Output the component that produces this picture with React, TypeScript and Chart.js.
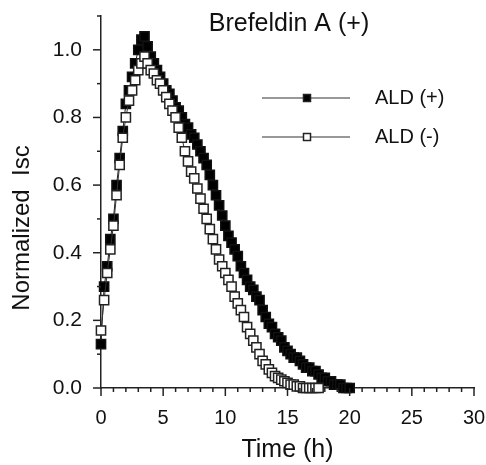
import React, { useEffect, useRef } from "react";
import { Chart, registerables } from "chart.js";

Chart.register(...registerables);

const timeHours: number[] = [
  0, 0.25, 0.5, 0.75, 1, 1.25, 1.5, 1.75, 2, 2.25, 2.5, 2.75, 3, 3.25, 3.5, 3.75, 4, 4.25, 4.5, 4.75,
  5, 5.25, 5.5, 5.75, 6, 6.25, 6.5, 6.75, 7, 7.25, 7.5, 7.75, 8, 8.25, 8.5, 8.75, 9, 9.25, 9.5, 9.75,
  10, 10.25, 10.5, 10.75, 11, 11.25, 11.5, 11.75, 12, 12.25, 12.5, 12.75, 13, 13.25, 13.5, 13.75,
  14, 14.25, 14.5, 14.75, 15, 15.25, 15.5, 15.75, 16, 16.25, 16.5, 16.75, 17, 17.25, 17.5, 17.75,
  18, 18.25, 18.5, 18.75, 19, 19.25, 19.5, 19.75, 20,
];

const aldPlus: number[] = [
  0.13, 0.30, 0.36, 0.44, 0.50, 0.60, 0.68, 0.76, 0.84, 0.88, 0.92, 0.96, 1.00, 1.03, 1.04, 1.01, 0.98, 0.96, 0.94, 0.92,
  0.90, 0.88, 0.87, 0.85, 0.83, 0.82, 0.80, 0.78, 0.77, 0.75, 0.74, 0.72, 0.70, 0.68, 0.66, 0.63, 0.60, 0.57, 0.54, 0.51,
  0.48, 0.45, 0.43, 0.41, 0.39, 0.36, 0.34, 0.32, 0.30, 0.29, 0.27, 0.26, 0.23, 0.21, 0.19, 0.18,
  0.16, 0.15, 0.14, 0.12, 0.11, 0.10, 0.09, 0.09, 0.08, 0.07, 0.06, 0.06, 0.05, 0.05, 0.04, 0.03,
  0.03, 0.02, 0.02, 0.01, 0.01, 0.01, 0.0, 0.0, 0.0,
];

const aldMinus: number[] = [
  0.17, 0.26, 0.34, 0.41, 0.48, 0.57, 0.66, 0.74, 0.80, 0.85, 0.88, 0.91, 0.94, 0.96, 0.98, 0.96, 0.94, 0.93, 0.91, 0.90,
  0.88, 0.86, 0.84, 0.82, 0.80, 0.77, 0.74, 0.70, 0.67, 0.64, 0.62, 0.59, 0.56, 0.53, 0.50, 0.47, 0.44, 0.41, 0.38, 0.36,
  0.34, 0.32, 0.30, 0.27, 0.25, 0.23, 0.21, 0.18, 0.16, 0.14, 0.12, 0.10, 0.08, 0.07, 0.055, 0.045,
  0.035, 0.03, 0.025, 0.02, 0.015, 0.01, 0.01, 0.005, 0.005, 0.0, 0.0, 0.0, 0.0, 0.0, 0.0,
];

const seriesLabels: string[] = ["ALD (+)", "ALD (-)"];
const chartTitle = "Brefeldin A (+)";
const xAxisTitle = "Time (h)";
const yAxisTitle = "Normalized  Isc";

const FONT = "'Liberation Sans', Arial, Helvetica, sans-serif";

const decorPlugin = {
  id: "decor",
  afterDraw(chart: any) {
    const ctx = chart.ctx as CanvasRenderingContext2D;
    const xs = chart.scales.x;
    const ys = chart.scales.y;
    const area = chart.chartArea;
    ctx.save();
    ctx.strokeStyle = "#222";
    ctx.lineWidth = 1.5;
    // y ticks
    for (let i = 0; i <= 11; i++) {
      const py = ys.getPixelForValue(i / 10);
      const len = i % 2 === 0 ? 8 : 4;
      ctx.beginPath();
      ctx.moveTo(area.left - len, py);
      ctx.lineTo(area.left, py);
      ctx.stroke();
    }
    // x ticks
    for (let i = 0; i <= 30; i++) {
      const px = xs.getPixelForValue(i);
      const len = i % 5 === 0 ? 8 : 4;
      ctx.beginPath();
      ctx.moveTo(px, area.bottom);
      ctx.lineTo(px, area.bottom + len);
      ctx.stroke();
    }
    // title
    ctx.fillStyle = "#111";
    ctx.font = `25px ${FONT}`;
    ctx.textAlign = "center";
    ctx.textBaseline = "middle";
    ctx.fillText(chartTitle, 289, 24);
    // axis titles
    ctx.font = `25px ${FONT}`;
    ctx.fillText(xAxisTitle, (area.left + area.right) / 2, 450);
    ctx.save();
    ctx.translate(22, 228);
    ctx.rotate(-Math.PI / 2);
    ctx.font = `24px ${FONT}`;
    ctx.fillText(yAxisTitle, 0, 0);
    ctx.restore();
    // legend
    const rows = [
      { y: 98, filled: true, label: seriesLabels[0] },
      { y: 137, filled: false, label: seriesLabels[1] },
    ];
    rows.forEach((r) => {
      ctx.strokeStyle = "#333";
      ctx.lineWidth = 1.2;
      ctx.beginPath();
      ctx.moveTo(262, r.y);
      ctx.lineTo(350, r.y);
      ctx.stroke();
      const s = 7;
      ctx.fillStyle = r.filled ? "#000" : "#fff";
      ctx.fillRect(307 - s / 2, r.y - s / 2, s, s);
      ctx.strokeStyle = "#222";
      ctx.lineWidth = 1.5;
      ctx.strokeRect(307 - s / 2, r.y - s / 2, s, s);
      ctx.fillStyle = "#111";
      ctx.font = `20px ${FONT}`;
      ctx.textAlign = "left";
      ctx.fillText(r.label, 375, r.y);
    });
    ctx.restore();
  },
};

export default function App() {
  const canvasRef = useRef<HTMLCanvasElement | null>(null);

  useEffect(() => {
    const canvas = canvasRef.current;
    if (!canvas) return;
    const plusData = timeHours.map((t, i) => ({ x: t, y: aldPlus[i] }));
    const minusData = timeHours.slice(0, aldMinus.length).map((t, i) => ({ x: t, y: aldMinus[i] }));
    const chart = new Chart(canvas, {
      type: "scatter",
      data: {
        datasets: [
          {
            label: seriesLabels[1],
            data: minusData,
            showLine: true,
            borderColor: "#333",
            borderWidth: 1,
            pointStyle: "rect",
            pointRadius: 6.5,
            pointBackgroundColor: "#fff",
            pointBorderColor: "#222",
            pointBorderWidth: 1.5,
            clip: false,
          } as any,
          {
            label: seriesLabels[0],
            data: plusData,
            showLine: true,
            borderColor: "#222",
            borderWidth: 1,
            pointStyle: "rect",
            pointRadius: 6.5,
            pointBackgroundColor: "#000",
            pointBorderColor: "#111",
            pointBorderWidth: 1.5,
            clip: false,
          } as any,
        ],
      },
      options: {
        responsive: false,
        animation: false,
        events: [],
        layout: { padding: { left: 0, top: 16, right: 12, bottom: 0 } },
        plugins: {
          legend: { display: false },
          tooltip: { enabled: false },
          title: { display: false },
        },
        scales: {
          x: {
            type: "linear",
            min: 0,
            max: 30,
            grid: { display: false, drawTicks: false },
            border: { display: true, color: "#222", width: 1.5 },
            ticks: {
              stepSize: 5,
              padding: 18,
              color: "#111",
              font: { family: FONT, size: 20 },
              maxRotation: 0,
            },
            afterFit: (scale: any) => {
              scale.height = 77;
              scale.paddingLeft = 0;
              scale.paddingRight = 0;
            },
          },
          y: {
            type: "linear",
            min: 0,
            max: 1.1,
            grid: { display: false, drawTicks: false },
            border: { display: true, color: "#222", width: 1.5 },
            ticks: {
              stepSize: 0.2,
              includeBounds: false,
              padding: 19,
              color: "#111",
              font: { family: FONT, size: 21 },
              callback: (v: any) => Number(v).toFixed(1),
            },
            afterFit: (scale: any) => {
              scale.width = 101;
              scale.paddingTop = 0;
              scale.paddingBottom = 0;
            },
          },
        },
      } as any,
      plugins: [decorPlugin],
    });
    return () => chart.destroy();
  }, []);

  return (
    <div style={{ position: "fixed", left: 0, top: 0, width: 486, height: 465, background: "#fff" }}>
      <canvas ref={canvasRef} width={486} height={465} style={{ width: 486, height: 465, display: "block" }} />
    </div>
  );
}
